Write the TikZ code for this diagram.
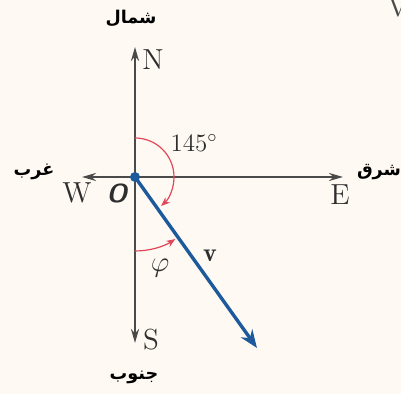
\documentclass[tikz,border=0pt]{standalone}
\usepackage{fontspec}
\usetikzlibrary{arrows.meta}
\TeXXeTstate=1
\newfontfamily\arabicfont[Script=Arabic]{DejaVu Sans}
\definecolor{bg}{HTML}{FEF9F2}
\definecolor{axiscol}{HTML}{4A4A4A}
\definecolor{vblue}{HTML}{1D5A9C}
\definecolor{arcred}{HTML}{E0475A}
\definecolor{txtcol}{HTML}{2E2E2E}
\tikzset{
  axisline/.style={draw=axiscol, line width=1.1pt, -{Stealth[length=7pt,width=4pt]}},
  vecline/.style={draw=vblue, line width=1.7pt, -{Stealth[length=9pt,width=7pt]}},
  anglearc/.style={draw=arcred, line width=0.6pt, -{Stealth[length=4.5pt,width=3.5pt]}},
  dirlabel/.style={text=txtcol, inner sep=0pt, font=\fontsize{14.5}{16}\selectfont},
  arlabel/.style={text=black, inner sep=0pt, font=\arabicfont\bfseries\fontsize{8.8}{11}\selectfont},
}
\begin{document}
\begin{tikzpicture}[x=0.5pt,y=0.5pt]
\clip (0,0) rectangle (401,394);
\fill[bg] (0,0) rectangle (401,394);
\useasboundingbox (0,0) rectangle (401,394);
% points
\coordinate (O) at (135,217);
\coordinate (Ntip) at (135,347);
\coordinate (Stip) at (135,51);
\coordinate (Wtip) at (82,217);
\coordinate (Etip) at (343,217);
\coordinate (Vtip) at (257,46);
% axes
\draw[axisline] (O) -- (Ntip);
\draw[axisline] (O) -- (Stip);
\draw[axisline] (O) -- (Wtip);
\draw[axisline] (O) -- (Etip);
% angle arcs
\draw[anglearc] ([yshift=39pt*0.5]O) arc[start angle=90, end angle=-48, radius=39];
\draw[anglearc] ([yshift=-74pt*0.5]O) arc[start angle=-90, end angle=-57, radius=74];
% vector
\draw[vecline] (O) -- (Vtip);
\fill[vblue] (O) circle[radius=5];
% labels
\node[dirlabel] (N) at (153,334) {N};
\node[dirlabel] (S) at (151,54) {S};
\node[dirlabel] (W) at (77,201) {W};
\node[dirlabel] (E) at (340,199) {E};
\node[text=txtcol, inner sep=0pt, font=\sffamily\bfseries\itshape\fontsize{13}{15}\selectfont] (Olab) at (117,201) {O};
\node[text=txtcol, inner sep=0pt, font=\fontsize{12.5}{14}\selectfont] (ang) at (194,251) {145$^\circ$};
\node[text=txtcol, inner sep=0pt, font=\fontsize{13}{15}\selectfont] (vlab) at (210,138) {$\mathbf{v}$};
\node[text=txtcol, inner sep=0pt, font=\fontsize{14}{16}\selectfont] (phi) at (160,126) {$\varphi$};
\node[arlabel] (north) at (131,376) {\beginR شمال\endR};
\node[arlabel] (west) at (34,222) {\beginR غرب\endR};
\node[arlabel] (east) at (379,222) {\beginR شرق\endR};
\node[arlabel] (south) at (134,17) {\beginR جنوب\endR};
\node[text=axiscol, inner sep=0pt, anchor=north west, font=\fontsize{14.5}{16}\selectfont] (cut) at (387,398) {V};
\end{tikzpicture}
\end{document}
